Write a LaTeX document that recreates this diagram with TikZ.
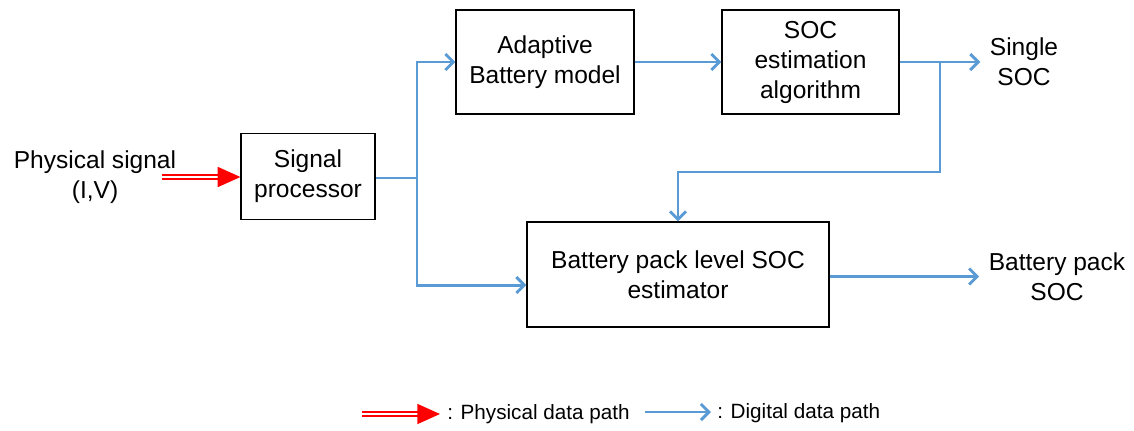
\documentclass[tikz,border=0pt]{standalone}
\usepackage{fontspec}
\setmainfont{Liberation Sans}
\usetikzlibrary{arrows.meta,positioning}
\definecolor{digiblue}{RGB}{91,155,213}

\begin{document}
\begin{tikzpicture}[x=0.75pt,y=-0.75pt,
  block/.style={draw,line width=0.9pt,align=center,inner sep=0pt,font=\fontsize{18.4}{22.5}\selectfont},
  lbl/.style={align=center,inner sep=7pt,font=\fontsize{18.4}{22.5}\selectfont},
  legend/.style={anchor=west,inner sep=0pt,font=\fontsize{15.5}{18}\selectfont},
  digital/.style={draw=digiblue,line width=2.2pt,-{Straight Barb[length=6pt,width=12pt,line width=2.2pt]}},
  physical/.style={draw=red,double=white,double distance=1.6pt,line width=1.2pt,-{Triangle[length=17pt,width=15pt]}}]

  \useasboundingbox (0,0) rectangle (1134,430);

  \node[lbl] (phys) at (95,177) {Physical signal\\(I,V)};
  \coordinate (pin) at (162,177);
  \node[block,minimum width=100.5pt,minimum height=65pt] (sp) at (308,176.5) {Signal\\processor};
  \node[block,minimum width=133.5pt,minimum height=78pt] (abm) at (545,62) {Adaptive\\Battery model};
  \node[block,minimum width=132.75pt,minimum height=78pt] (est) at (810.5,62) {SOC\\estimation\\algorithm};
  \node[block,minimum width=226.5pt,minimum height=78.75pt] (pack) at (678,274.5) {Battery pack level SOC\\estimator};
  \node[lbl] (single) at (1024,62) {Single\\SOC};
  \node[lbl] (packsoc) at (1057,276.5) {Battery pack\\SOC};

  % branch points
  \coordinate (split) at (417,178);
  \coordinate (tap) at (940,62);
  \coordinate (back) at (940,172);

  \draw[physical] (pin) -- (pin -| sp.west);
  \draw[digital,-] (sp.east |- split) -- (split);
  \draw[digital] (split) |- (abm.west);
  \draw[digital] (split) |- ([yshift=-7.9pt]pack.west);
  \draw[digital] (abm) -- (est);
  \draw[digital] (est.east) -- (single.west);
  \draw[digital] (tap) -- (back) -| (pack.north);
  \draw[digital] (pack.east |- packsoc) -- (packsoc.west);

  % legend
  \coordinate (lr0) at (362,414);
  \coordinate (lr1) at (440,414);
  \draw[physical] (lr0) -- (lr1);
  \node[legend] (lrtext) at (447,414) {: Physical data path};
  \coordinate (lb0) at (645,412);
  \coordinate (lb1) at (711,412);
  \draw[digital] (lb0) -- (lb1);
  \node[legend] (lbtext) at (717,413) {: Digital data path};
\end{tikzpicture}
\end{document}
